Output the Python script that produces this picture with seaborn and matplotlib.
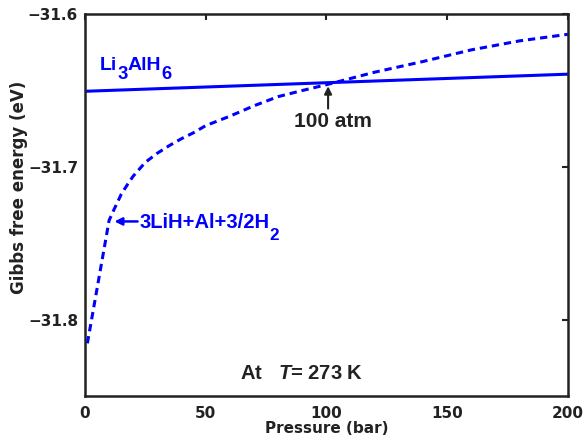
import matplotlib
matplotlib.use("Agg")
import matplotlib.pyplot as plt
import seaborn as sns
import pandas as pd

# Data
pressure_solid = [0, 200]
g_solid = [-31.6505, -31.6393]

pressure_dash = [1, 10, 12, 15, 18, 20, 25, 30, 35, 40, 45, 50, 60, 70, 80, 90,
                 100, 120, 140, 160, 180, 200]
g_dash = [-31.8155, -31.735, -31.728, -31.718, -31.7105, -31.706, -31.697, -31.691,
          -31.686, -31.6815, -31.6776, -31.673, -31.6668, -31.660, -31.654, -31.650,
          -31.6462, -31.638, -31.631, -31.6234, -31.6175, -31.6132]

xticks = [0, 50, 100, 150, 200]
yticks = [-31.8, -31.7, -31.6]
ytick_labels = ["\u221231.8", "\u221231.7", "\u221231.6"]

sns.set_theme(style="white")
plt.rcParams['font.family'] = ['Liberation Sans', 'DejaVu Sans']
plt.rcParams['font.weight'] = 'bold'
plt.rcParams['mathtext.fontset'] = 'custom'
plt.rcParams['mathtext.bf'] = 'Liberation Sans:bold'
plt.rcParams['mathtext.rm'] = 'Liberation Sans:bold'
plt.rcParams['mathtext.it'] = 'Liberation Sans:italic:bold'
plt.rcParams['mathtext.default'] = 'bf'

BLUE = "#0000ff"
DARK = "#222222"

fig = plt.figure(figsize=(5.86, 4.42), dpi=100)
ax = fig.add_axes([0.145, 0.104, 0.824, 0.864])

df_s = pd.DataFrame({"P": pressure_solid, "G": g_solid})
df_d = pd.DataFrame({"P": pressure_dash, "G": g_dash})
sns.lineplot(data=df_s, x="P", y="G", ax=ax, color=BLUE, lw=2.2)
sns.lineplot(data=df_d, x="P", y="G", ax=ax, color=BLUE, lw=2.2,
             linestyle=(0, (2.4, 1.6)))

ax.set_xlim(0, 200)
ax.set_ylim(-31.85, -31.6)
ax.set_xticks(xticks)
ax.set_xticklabels([str(t) for t in xticks])
ax.set_yticks(yticks)
ax.set_yticklabels(ytick_labels)
ax.tick_params(direction="in", length=4, width=1.5, top=True, right=True,
               colors=DARK)
ax.tick_params(axis="x", pad=7)
ax.tick_params(axis="y", pad=5)
for lab in ax.get_xticklabels() + ax.get_yticklabels():
    lab.set_fontweight("bold")
    lab.set_fontfamily("DejaVu Sans")
    lab.set_fontsize(11)
for sp in ax.spines.values():
    sp.set_linewidth(1.8)
    sp.set_color(DARK)

ax.set_xlabel("Pressure (bar)", fontsize=11, fontweight="bold", color=DARK,
              family="DejaVu Sans", labelpad=0)
ax.set_ylabel("Gibbs free energy (eV)", fontsize=12, fontweight="bold", color=DARK,
              family="DejaVu Sans")
ax.yaxis.set_label_coords(-0.117, 0.546)


def chain_text(x, y, pieces, size, color, sub_shift, sub_scale):
    """Draw text made of pieces; pieces flagged True are subscripts."""
    prev = ax.text(x, y, pieces[0][0], fontsize=size, color=color,
                   fontweight="bold", va="bottom", ha="left")
    prev_sub = pieces[0][1]
    for txt, is_sub in pieces[1:]:
        dy = 0
        if is_sub and not prev_sub:
            dy = -sub_shift
        elif prev_sub and not is_sub:
            dy = sub_shift
        fs = size * (sub_scale if is_sub else 1.0)
        prev = ax.annotate(txt, xy=(1, 0), xycoords=prev, xytext=(0, dy),
                           textcoords="offset points", fontsize=fs, color=color,
                           fontweight="bold", va="bottom", ha="left")
        prev_sub = is_sub
    return prev


# Li3AlH6 label
chain_text(6.2, -31.6394, [("Li", False), ("3", True), ("AlH", False), ("6", True)],
           14, BLUE, 6.0, 0.95)

# 3LiH+Al+3/2H2 label with arrow
ax.annotate("", xy=(12.2, -31.7357), xytext=(21.8, -31.7357),
            arrowprops=dict(arrowstyle="-|>", color=BLUE, lw=1.8,
                            shrinkA=0, shrinkB=0, mutation_scale=11))
chain_text(22.4, -31.7425, [("3LiH+Al+3/2H", False), ("2", True)],
           14.5, BLUE, 8.0, 0.85)

# 100 atm arrow and label
ax.annotate("", xy=(100.7, -31.6472), xytext=(100.7, -31.6618),
            arrowprops=dict(arrowstyle="-|>", color=DARK, lw=1.5,
                            shrinkA=0, shrinkB=0, mutation_scale=11))
ax.text(102.5, -31.6739, "100 atm", color=DARK, fontsize=15, fontweight="bold",
        va="baseline", ha="center")

# Temperature note
ax.text(64.2, -31.8389, "At   $\\mathit{T}$= 273 K", color=DARK, fontsize=14.5,
        fontweight="bold", va="baseline", ha="left")

fig.savefig("out.png", dpi=100)
